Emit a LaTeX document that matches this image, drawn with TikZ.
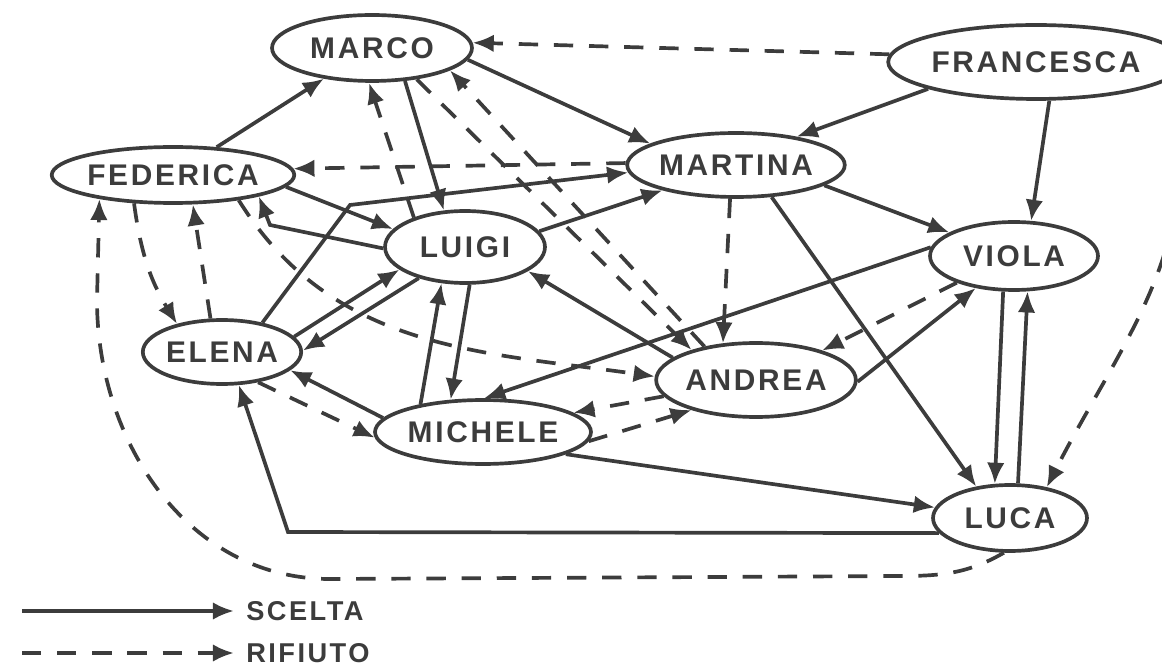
\documentclass[tikz,border=0pt]{standalone}
\usepackage{fontspec}
\setmainfont{Liberation Sans}[LetterSpace=9]
\usetikzlibrary{shapes.geometric}
\usetikzlibrary{arrows.meta}
\definecolor{tratto}{HTML}{3C3C3C}

\begin{document}
\begin{tikzpicture}[x=0.02cm,y=-0.02cm,line width=2.1pt,color=tratto,
	nome/.style={ellipse,draw,inner sep=0pt,font=\bfseries\fontsize{17}{18}\selectfont},
	legenda/.style={anchor=west,inner xsep=6pt,inner ysep=1pt,font=\bfseries\fontsize{15.5}{16}\selectfont},
	scelta/.style={-{Latex[length=12pt,width=10pt]}},
	rifiuto/.style={scelta,dash pattern=on 11pt off 9pt}]
	\useasboundingbox (0,0) rectangle (1162,668);
	\node[nome,minimum width=4cm,minimum height=1.32cm] (marco) at (372,48) {MARCO};
	\node[nome,minimum width=4.96cm,minimum height=1.48cm] (francesca) at (1036,62) {FRANCESCA};
	\node[nome,minimum width=4.24cm,minimum height=1.12cm] (federica) at (173,175) {FEDERICA};
	\node[nome,minimum width=4.16cm,minimum height=1.28cm] (martina) at (736,165) {MARTINA};
	\node[nome,minimum width=3.2cm,minimum height=1.44cm] (luigi) at (465,247) {LUIGI};
	\node[nome,minimum width=3.36cm,minimum height=1.36cm] (viola) at (1014,256) {VIOLA};
	\node[nome,minimum width=3.16cm,minimum height=1.28cm] (elena) at (222,352) {ELENA};
	\node[nome,minimum width=3.84cm,minimum height=1.48cm] (andrea) at (756,380) {ANDREA};
	\node[nome,minimum width=4.32cm,minimum height=1.28cm] (michele) at (483,432) {MICHELE};
	\node[nome,minimum width=3.08cm,minimum height=1.32cm] (luca) at (1010,518) {LUCA};
	\coordinate (k1) at (350,205);
	\coordinate (k2) at (270,225);
	\coordinate (k3) at (288,532);
	\coordinate (k4) at (900,576);
	\coordinate (k5) at (330,579);
	\coordinate (k6) at (97,300);
	\foreach \a/\b in {federica/marco,marco.-45/luigi.120,marco.-7/martina.166,francesca.194/martina.25,
		francesca.-71/viola.64,martina.-13/viola.160,martina.-42/luca.137,luigi.12/martina.199,
		federica.-6/luigi.166,elena.12/luigi.199,luigi.214/elena.1,michele.156/luigi.237,
		luigi.-83/michele.135,michele.172/elena.-15,andrea.165/luigi.-21,viola.174/michele.88,
		andrea.-1/viola.220,viola.-107/luca.114,luca.77/viola.-69,michele.-15/luca.172}
		\draw[scelta] (\a) -- (\b);
	\foreach \a/\b in {francesca.177/marco.3,martina.179/federica.3,luigi.150/marco.-95,
		marco.-35/andrea.155,andrea.147/marco.-16,martina.-100/andrea.132,viola.205/andrea.24,
		elena.-40/michele.183,andrea.190/michele.12,michele.-5/andrea.205,elena.109/federica.-56}
		\draw[rifiuto] (\a) -- (\b);
	\draw[scelta] (elena.36) -- (k1) -- (martina.184);
	\draw[scelta] (luigi.181) -- (k2) -- (federica.-14);
	\draw[scelta] (luca.192) -- (k3) -- (elena.-63);
	\draw[rifiuto] (federica.216) to[bend right=12] (elena.148);
	\draw[rifiuto] (federica.-21) to[out=-58,in=172] (andrea.178);
	\draw[rifiuto] (luca.-100) to[out=-150,in=0] (k4) -- (k5) to[out=180,in=-90] (k6) -- (federica.198);
	\draw[rifiuto] (francesca.-8) to[out=-75,in=63] (luca.40);
	\coordinate (s0) at (22,611);
	\coordinate (r0) at (22,653);
	\node[legenda] (sc) at (234,611) {SCELTA};
	\node[legenda] (ri) at (234,653) {RIFIUTO};
	\draw[scelta] (s0) -- (sc);
	\draw[rifiuto] (r0) -- (ri);
\end{tikzpicture}
\end{document}
